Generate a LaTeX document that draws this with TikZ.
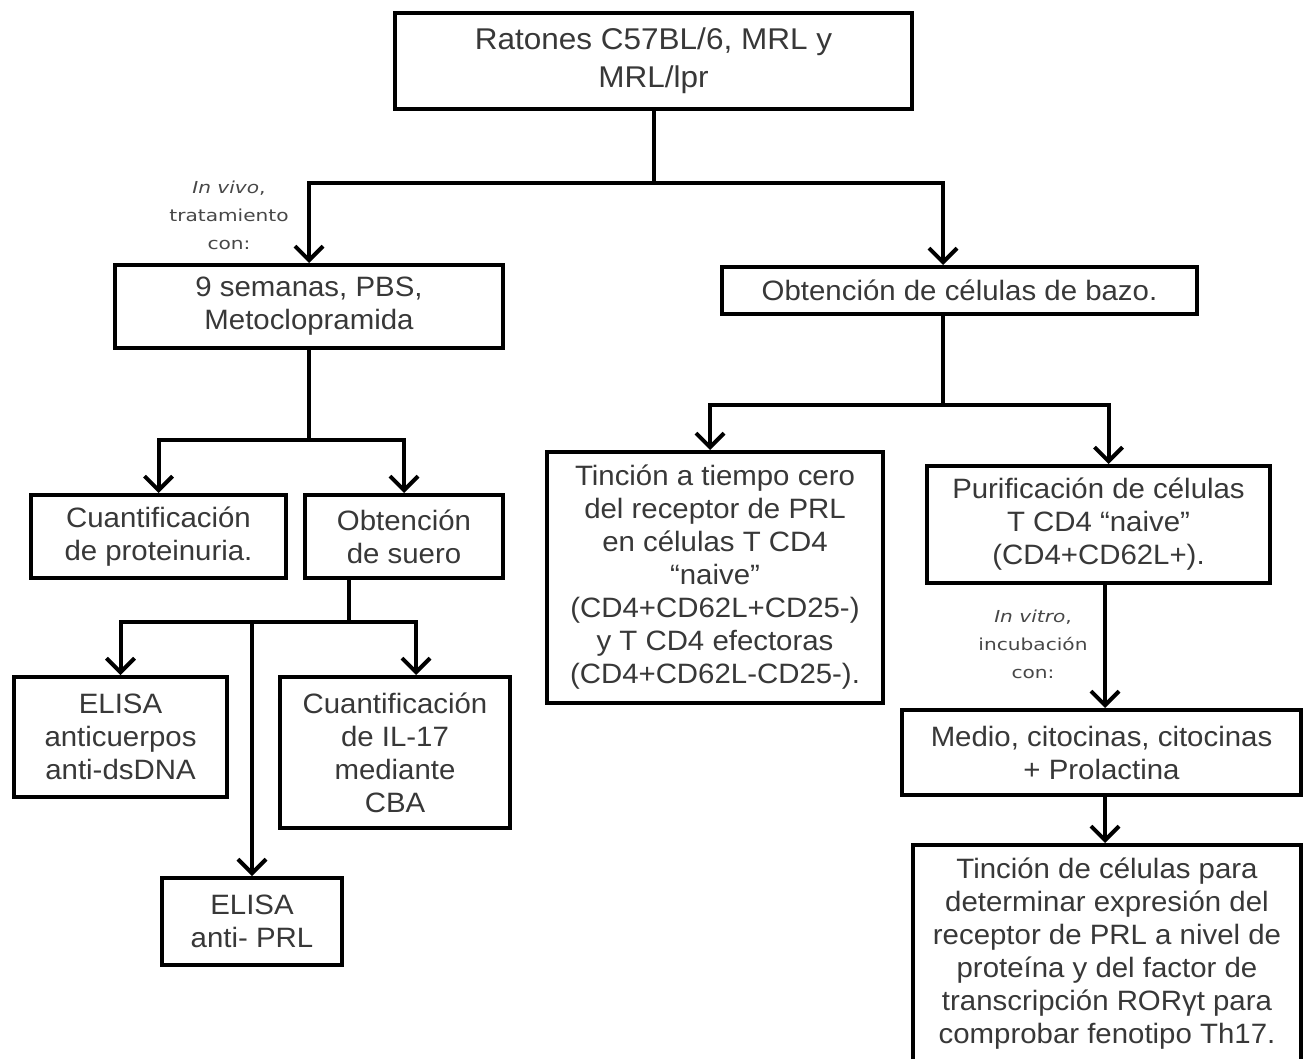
\documentclass[tikz,border=0pt]{standalone}
\usepackage{fontspec}
\setmainfont{Liberation Sans}[FakeStretch=1.05]
\newfontfamily\notefont{DejaVu Sans}[FakeStretch=1.22]
\usetikzlibrary{arrows.meta}
\begin{document}
\begin{tikzpicture}[x=1pt,y=-1pt,
  box/.style={draw=black, line width=4pt, text=black!78, align=center, inner sep=0pt,
              font=\fontsize{28}{33}\selectfont},
  link/.style={draw=black, line width=4pt},
  arr/.style={link, -{Straight Barb[length=14pt,width=28pt]}},
  note/.style={text=black!72, align=center, font=\notefont\fontsize{16.5}{28}\selectfont}]

\path[use as bounding box] (0,0) rectangle (1304,1059);
\clip (0,0) rectangle (1304,1059);
\fill[white] (0,0) rectangle (1304,1059);

% boxes
\node[box, minimum width=517pt, minimum height=96pt, font=\fontsize{30}{38}\selectfont]
  (top) at (653.5,61) {Ratones C57BL/6, MRL y\\MRL/lpr};
\node[box, minimum width=388pt, minimum height=83pt] (semanas) at (309,306.5)
  {9 semanas, PBS,\\Metoclopramida};
\node[box, minimum width=475pt, minimum height=47pt] (bazo) at (959.5,290.5)
  {Obtención de células de bazo.};
\node[box, minimum width=255pt, minimum height=83pt] (prot) at (158.5,536.5)
  {Cuantificación\\de proteinuria.};
\node[box, minimum width=198pt, minimum height=83pt] (suero) at (404,536.5)
  {Obtención\\de suero};
\node[box, minimum width=213pt, minimum height=120pt] (elisa) at (120.5,737)
  {ELISA\\anticuerpos\\anti-dsDNA};
\node[box, minimum width=230pt, minimum height=151pt] (il17) at (395,752.5)
  {Cuantificación\\de IL-17\\mediante\\CBA};
\node[box, minimum width=180pt, minimum height=87pt] (prl) at (252,921.5)
  {ELISA\\anti- PRL};
\node[box, minimum width=336pt, minimum height=251pt] (tinc) at (715,577.5)
  {Tinción a tiempo cero\\del receptor de PRL\\en células T CD4\\“naive”\\(CD4+CD62L+CD25-)\\y T CD4 efectoras\\(CD4+CD62L-CD25-).};
\node[box, minimum width=343pt, minimum height=117pt] (puri) at (1098.5,524.5)
  {Purificación de células\\T CD4 “naive”\\(CD4+CD62L+).};
\node[box, minimum width=399pt, minimum height=85pt] (medio) at (1101.5,752.5)
  {Medio, citocinas, citocinas\\+ Prolactina};
\node[box, minimum width=388pt, minimum height=217pt] (final) at (1107,953.5)
  {Tinción de células para\\determinar expresión del\\receptor de PRL a nivel de\\proteína y del factor de\\transcripción RORγt para\\comprobar fenotipo Th17.};

% side notes
\node[note] (vivo) at (229,215) {\textit{In vivo},\\tratamiento\\con:};
\node[note] (vitro) at (1033,644) {\textit{In vitro},\\incubación\\con:};

% junction points
\coordinate (j1) at (653.5,183);
\coordinate (j2) at (309,440);
\coordinate (s3) at ([xshift=-55pt]suero.south);
\coordinate (j3) at (349,622);
\coordinate (s4) at ([xshift=-16.5pt]bazo.south);
\coordinate (j4) at (943,405);
\coordinate (p5) at ([xshift=6.5pt]puri.south);
\coordinate (m6) at ([xshift=3.5pt]medio.south);

% top level split
\draw[link] (top.south) -- (j1);
\draw[arr] (j1) -| (semanas.north);
\draw[arr] (j1) -| ([xshift=-16.5pt]bazo.north);

% in vivo branch
\draw[link] (semanas.south) -- (j2);
\draw[arr] (j2) -| (prot.north);
\draw[arr] (j2) -| (suero.north);

\draw[link] (s3) -- (j3);
\draw[arr] (j3) -| (elisa.north);
\draw[arr] (j3) -| ([xshift=21pt]il17.north);
\draw[arr] (prl.north |- j3) -- (prl.north);

% spleen cell branch
\draw[link] (s4) -- (j4);
\draw[arr] (j4) -| ([xshift=-5pt]tinc.north);
\draw[arr] (j4) -| ([xshift=10pt]puri.north);

\draw[arr] (p5) -- (p5 |- medio.north);
\draw[arr] (m6) -- (m6 |- final.north);
\end{tikzpicture}
\end{document}
